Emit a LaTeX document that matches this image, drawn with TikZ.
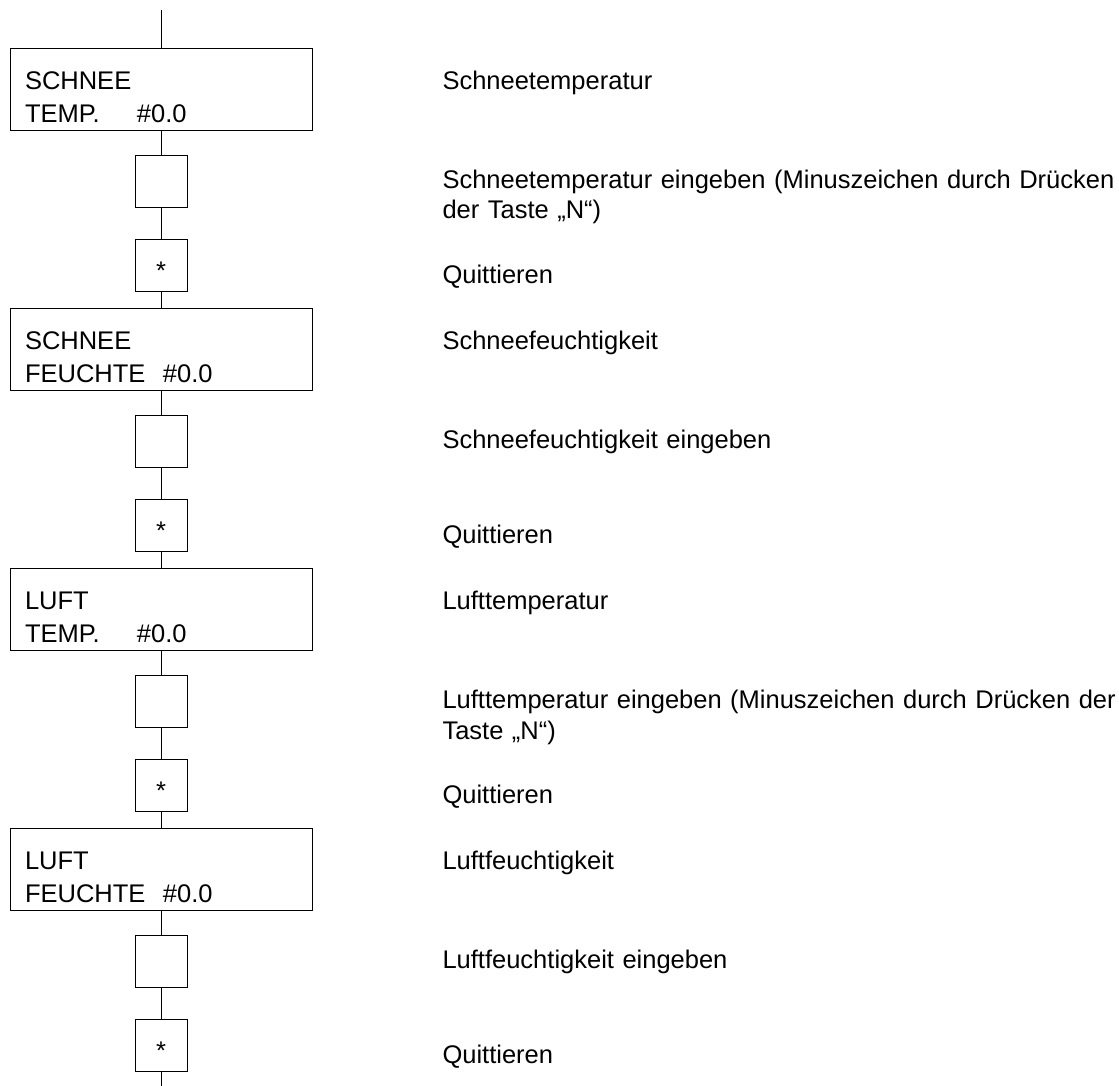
\documentclass[tikz,border=0pt]{standalone}
\usepackage{fontspec}
\setmainfont{Liberation Sans}
\usetikzlibrary{positioning}

\begin{document}
\begin{tikzpicture}[x=1pt, y=-1pt, line width=1pt,
  disp/.style={draw, text width=272pt, align=left, inner xsep=15pt, inner ysep=0pt,
    text height=41pt, text depth=41pt, font=\fontsize{25.5}{33}\selectfont},
  keybox/.style={draw, minimum size=52pt, inner sep=0pt,
    text height=30pt, text depth=3pt, font=\fontsize{25.5}{30}\selectfont},
  lbl/.style={anchor=base west, text width=680pt, align=left, inner sep=0pt,
    font=\fontsize{25.5}{30.5}\selectfont},
  conn/.style={line width=1pt}]
  \useasboundingbox (0,0) rectangle (1119,1086);
  \coordinate (top) at (161,10);
  \coordinate (lx) at (442,0);
  \coordinate (bot) at (161,1086);

  % Schneetemperatur
  \node[disp, below=38pt of top] (s1) {SCHNEE\\\makebox[112pt][l]{TEMP.}\#0.0};
  \node[keybox, below=24pt of s1] (e1) {};
  \node[keybox, below=31pt of e1] (q1) {*};
  % Schneefeuchtigkeit
  \node[disp, below=16pt of q1] (s2) {SCHNEE\\\makebox[138pt][l]{FEUCHTE}\#0.0};
  \node[keybox, below=24pt of s2] (e2) {};
  \node[keybox, below=31pt of e2] (q2) {*};
  % Lufttemperatur
  \node[disp, below=16pt of q2] (s3) {LUFT\\\makebox[112pt][l]{TEMP.}\#0.0};
  \node[keybox, below=24pt of s3] (e3) {};
  \node[keybox, below=31pt of e3] (q3) {*};
  % Luftfeuchtigkeit
  \node[disp, below=16pt of q3] (s4) {LUFT\\\makebox[138pt][l]{FEUCHTE}\#0.0};
  \node[keybox, below=24pt of s4] (e4) {};
  \node[keybox, below=31pt of e4] (q4) {*};

  \node[lbl] (t1) at (s1.base -| lx) {Schneetemperatur};
  \node[lbl, yshift=-7pt] (t2) at (e1.center -| lx) {Schneetemperatur eingeben (Minuszeichen durch Drücken\\der Taste „N“)};
  \node[lbl, yshift=-18pt] (t3) at (q1.center -| lx) {Quittieren};
  \node[lbl] (t4) at (s2.base -| lx) {Schneefeuchtigkeit};
  \node[lbl, yshift=-7pt] (t5) at (e2.center -| lx) {Schneefeuchtigkeit eingeben};
  \node[lbl, yshift=-18pt] (t6) at (q2.center -| lx) {Quittieren};
  \node[lbl] (t7) at (s3.base -| lx) {Lufttemperatur};
  \node[lbl, yshift=-7pt] (t8) at (e3.center -| lx) {Lufttemperatur eingeben (Minuszeichen durch Drücken der\\Taste „N“)};
  \node[lbl, yshift=-18pt] (t9) at (q3.center -| lx) {Quittieren};
  \node[lbl] (t10) at (s4.base -| lx) {Luftfeuchtigkeit};
  \node[lbl, yshift=-7pt] (t11) at (e4.center -| lx) {Luftfeuchtigkeit eingeben};
  \node[lbl, yshift=-18pt] (t12) at (q4.center -| lx) {Quittieren};

  \draw[conn] (top) -- (s1);
  \draw[conn] (s1) -- (e1);
  \draw[conn] (e1) -- (q1);
  \draw[conn] (q1) -- (s2);
  \draw[conn] (s2) -- (e2);
  \draw[conn] (e2) -- (q2);
  \draw[conn] (q2) -- (s3);
  \draw[conn] (s3) -- (e3);
  \draw[conn] (e3) -- (q3);
  \draw[conn] (q3) -- (s4);
  \draw[conn] (s4) -- (e4);
  \draw[conn] (e4) -- (q4);
  \draw[conn] (q4) -- (bot);
\end{tikzpicture}
\end{document}
